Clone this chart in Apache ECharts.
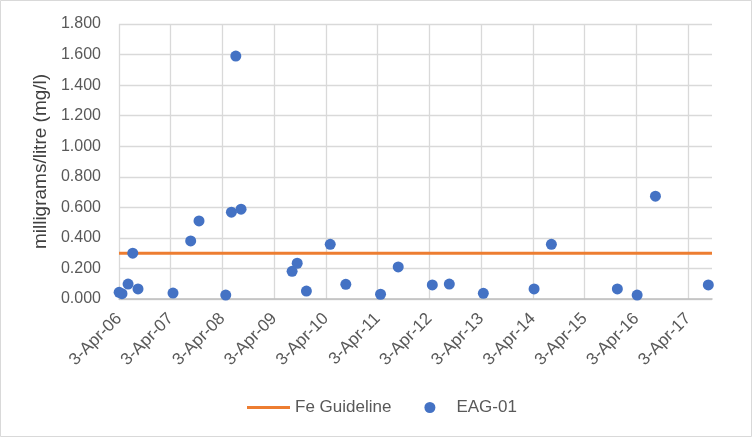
<!DOCTYPE html>
<html>
<head>
<meta charset="utf-8">
<script src="https://cdn.jsdelivr.net/npm/echarts@6/dist/echarts.min.js"></script>
<style>
html,body{margin:0;padding:0;background:#fff;}
#chart{width:752px;height:437px;}
</style>
</head>
<body>
<div id="chart"></div>
<script>
// ---- data ----
var sampleDates = ['2006-04-04','2006-04-24','2006-06-06','2006-07-09','2006-08-15','2007-04-19','2007-08-22','2007-10-20','2008-04-26','2008-06-05','2008-07-06','2008-08-12','2009-08-07','2009-09-12','2009-11-16','2010-05-03','2010-08-21','2011-04-23','2011-08-26','2012-04-23','2012-08-21','2013-04-18','2014-04-11','2014-08-11','2015-11-20','2016-04-08','2016-08-15','2017-08-23'];
var eag01Values = [0.044,0.035,0.098,0.300,0.066,0.039,0.380,0.511,0.026,0.568,1.590,0.588,0.181,0.234,0.052,0.358,0.096,0.031,0.210,0.092,0.098,0.037,0.066,0.358,0.066,0.026,0.673,0.092];
var feGuideline = 0.3;
var axisStartDate = '2006-04-03';
var axisEndDate = '2017-09-18';
var yTicks = [0,0.2,0.4,0.6,0.8,1.0,1.2,1.4,1.6,1.8];

// years since 3-Apr-2006 (each tick is an anniversary of 3-Apr)
function toYears(s){
  var p = s.split('-').map(Number);
  var t = Date.UTC(p[0], p[1]-1, p[2]);
  var y = p[0];
  var a = Date.UTC(y, 3, 3);
  if (t < a) { y -= 1; a = Date.UTC(y, 3, 3); }
  var b = Date.UTC(y+1, 3, 3);
  return (y - 2006) + (t - a) / (b - a);
}
var xMin = toYears(axisStartDate);
var xMax = toYears(axisEndDate);
var scatterData = sampleDates.map(function(d,i){ return [toYears(d), eag01Values[i]]; });
var guideData = [[xMin, feGuideline],[xMax, feGuideline]];

var chart = echarts.init(document.getElementById('chart'));
var font = 'Liberation Sans';
chart.setOption({
  animation:false,
  backgroundColor:'#fff',
  textStyle:{fontFamily:font},
  grid:{left:119, top:24, right:40, bottom:138, containLabel:false},
  graphic:[{type:'rect', shape:{x:0.5,y:0.5,width:751,height:436}, style:{fill:'none', stroke:'#d9d9d9', lineWidth:1}, silent:true}],
  legend:{
    bottom:16, left:242,
    itemWidth:43, itemHeight:11, itemGap:33,
    textStyle:{fontSize:17, color:'#595959', fontFamily:font},
    data:[{name:'Fe Guideline', icon:'path://M0,0L43,0L43,3L0,3Z', itemStyle:{color:'#ED7D31'}}, {name:'EAG-01', icon:'circle'}]
  },
  xAxis:{
    type:'value', min:xMin, max:xMax, interval:1,
    axisLine:{show:true, lineStyle:{color:'#bfbfbf', width:1.5}},
    axisTick:{show:false},
    splitLine:{show:true, showMaxLine:false, lineStyle:{color:'#d9d9d9', width:1.3}},
    axisLabel:{
      rotate:45, margin:17, fontSize:17, color:'#595959', fontFamily:font,
      showMaxLabel:false,
      formatter:function(v){
        var r = Math.round(v);
        if (Math.abs(v - r) > 1e-6) return '';
        var yy = 6 + r;
        return '3-Apr-' + (yy < 10 ? '0' + yy : '' + yy);
      }
    }
  },
  yAxis:{
    type:'value', min:yTicks[0], max:yTicks[yTicks.length-1], interval:0.2,
    name:'milligrams/litre (mg/l)', nameLocation:'middle', nameRotate:90, nameGap:66,
    nameTextStyle:{fontSize:19, color:'#404040', fontFamily:font},
    axisLine:{show:false}, axisTick:{show:false},
    splitLine:{show:true, lineStyle:{color:'#d9d9d9', width:1.3}},
    axisLabel:{margin:18, fontSize:16, color:'#595959', fontFamily:font,
      formatter:function(v){ return v.toFixed(3); }}
  },
  series:[
    {name:'Fe Guideline', type:'line', data:guideData, symbol:'none',
     lineStyle:{color:'#ED7D31', width:3}, itemStyle:{color:'#ED7D31'}, z:3},
    {name:'EAG-01', type:'scatter', data:scatterData, symbol:'circle', symbolSize:11,
     itemStyle:{color:'#4472C4', opacity:1}, z:4}
  ]
});
</script>
</body>
</html>
